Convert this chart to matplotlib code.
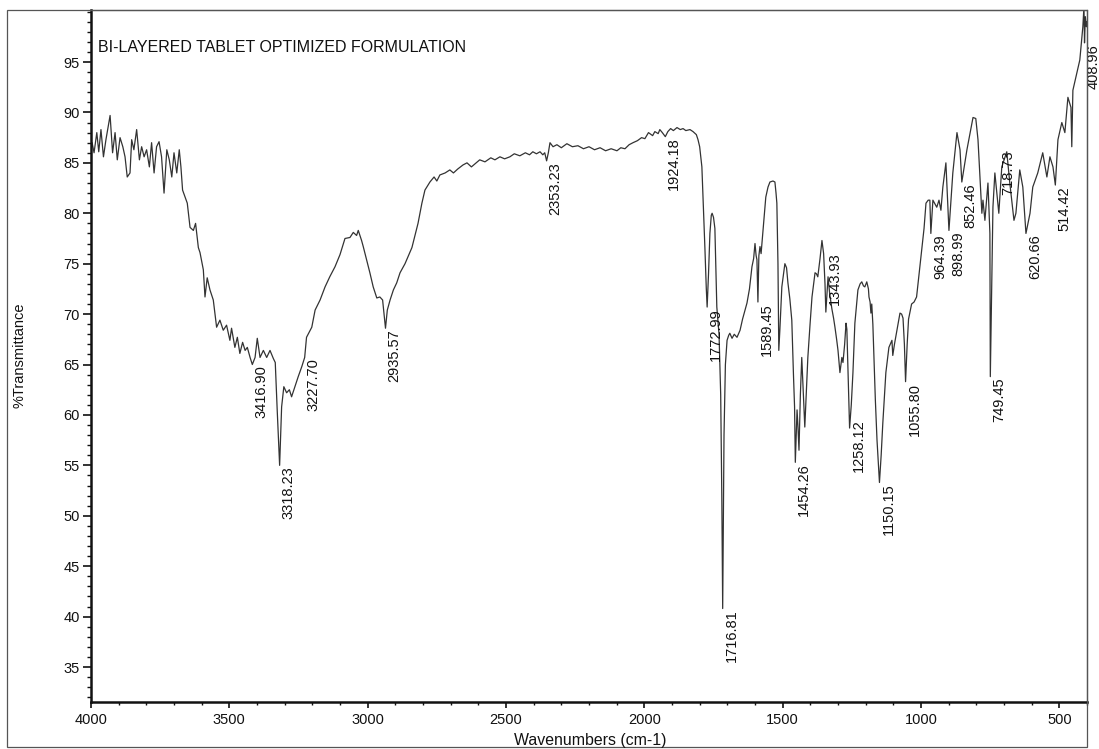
import numpy as np
import matplotlib
matplotlib.use("Agg")
import matplotlib.pyplot as plt
from matplotlib.ticker import FixedLocator, MultipleLocator
from matplotlib.patches import Rectangle

# FT-IR spectrum of the bi-layered tablet (wavenumber in cm-1, %T)
wavenumber = [
    4000, 3996, 3989, 3979, 3972, 3964, 3955, 3946, 3931, 3922, 3913, 3905, 3895,
    3885, 3877, 3869, 3859, 3853, 3845, 3835, 3825, 3817, 3808, 3799, 3789, 3781,
    3772, 3763, 3754, 3745, 3736, 3726, 3717, 3708, 3700, 3690, 3681, 3675, 3669,
    3660, 3652, 3642, 3630, 3622, 3612, 3606, 3594, 3588, 3580, 3570, 3558, 3546,
    3534, 3522, 3510, 3498, 3492, 3480, 3471, 3462, 3452, 3443, 3435, 3425, 3416.90,
    3407, 3399, 3389, 3377, 3365, 3353, 3341, 3334, 3327, 3318.23, 3311, 3303, 3293,
    3283, 3275, 3263, 3251, 3238, 3227.70, 3221, 3202, 3190, 3172, 3154, 3137, 3118,
    3100, 3082, 3064, 3052, 3040, 3034, 3022, 3016, 3004, 2992, 2980, 2967, 2956,
    2946, 2935.57, 2929, 2919, 2907, 2895, 2883, 2865, 2840, 2818, 2804, 2793, 2775,
    2760, 2750, 2739, 2720, 2703, 2690, 2674, 2655, 2641, 2625, 2612, 2595, 2576,
    2555, 2540, 2522, 2505, 2486, 2470, 2450, 2430, 2415, 2403, 2390, 2377, 2367,
    2360, 2353.23, 2347, 2341, 2330, 2316, 2300, 2280, 2260, 2240, 2220, 2200, 2180,
    2160, 2140, 2120, 2099, 2085, 2070, 2055, 2041, 2025, 2010, 1998, 1985, 1970,
    1962, 1950, 1944, 1935, 1924.18, 1915, 1905, 1895, 1882, 1870, 1860, 1850, 1835,
    1824, 1812, 1806, 1800, 1792, 1785, 1781, 1776, 1772.99, 1768, 1763, 1758, 1755,
    1750, 1745, 1741, 1738, 1730, 1724, 1720, 1716.81, 1712, 1707, 1701, 1695, 1691,
    1683, 1675, 1665, 1654, 1645, 1629, 1620, 1611, 1605, 1600, 1596, 1593, 1589.45,
    1586, 1582, 1578, 1571, 1566, 1561, 1553, 1546, 1535, 1528, 1524, 1521, 1517,
    1514, 1510, 1503, 1497, 1492, 1486, 1481, 1474, 1467, 1461, 1457, 1454.26, 1448,
    1445, 1441, 1436, 1431, 1425, 1420, 1415, 1409, 1401, 1394, 1388, 1383, 1378,
    1373, 1365, 1358, 1352, 1347, 1343.93, 1340, 1336, 1330, 1322, 1316, 1311, 1305,
    1300, 1293, 1286, 1282, 1276, 1271, 1268, 1264, 1258.12, 1252, 1246, 1239, 1228,
    1220, 1214, 1208, 1203, 1196, 1190, 1188, 1184, 1181, 1178, 1174, 1170, 1165,
    1159, 1150.15, 1144, 1138, 1127, 1116, 1105, 1102, 1096, 1087, 1076, 1070, 1065,
    1060, 1055.80, 1050, 1045, 1034, 1025, 1016, 1004, 995, 989, 982, 974, 968,
    964.39, 957, 943, 935, 928, 921, 910, 898.99, 885, 870, 859, 852.46, 834, 812,
    802, 794, 780, 776, 769, 758, 751, 749.45, 740, 733, 718.73, 708, 690, 679, 664,
    657, 643, 632, 620.66, 606, 596, 578, 560, 545, 534, 523, 514.42, 505, 491, 480,
    469, 458, 455, 451, 426, 415, 411, 408.96, 406, 402, 400,
]
transmittance = [
    86.2, 87.0, 86.0, 88.0, 86.1, 88.3, 85.6, 87.3, 89.7, 86.0, 88.0, 85.3, 87.5,
    86.6, 85.6, 83.6, 84.0, 87.3, 86.3, 88.3, 85.3, 86.6, 85.6, 86.3, 84.6, 87.0,
    84.0, 86.6, 87.1, 85.6, 82.0, 86.3, 85.3, 83.6, 86.0, 84.0, 86.3, 84.6, 82.3,
    81.6, 81.0, 78.6, 78.3, 79.0, 76.6, 76.1, 74.4, 71.7, 73.6, 72.4, 71.4, 68.7,
    69.4, 68.4, 68.9, 67.4, 68.6, 66.7, 67.7, 66.1, 67.2, 66.4, 66.7, 65.7, 65.0,
    65.7, 67.6, 65.7, 66.4, 65.7, 66.4, 65.6, 65.2, 60.5, 55.0, 60.8, 62.8, 62.2,
    62.5, 61.8, 62.8, 63.8, 64.8, 65.7, 67.7, 68.7, 70.4, 71.4, 72.7, 73.7, 74.7,
    75.9, 77.5, 77.6, 78.1, 77.8, 78.3, 77.3, 76.7, 75.4, 74.1, 72.7, 71.6, 71.7,
    71.4, 68.6, 70.4, 71.4, 72.4, 73.1, 74.1, 75.0, 76.6, 79.0, 81.0, 82.3, 83.1,
    83.6, 83.2, 83.8, 84.0, 84.3, 84.0, 84.4, 84.8, 85.0, 84.6, 84.9, 85.3, 85.1,
    85.5, 85.3, 85.6, 85.4, 85.6, 85.9, 85.7, 86.0, 85.8, 86.1, 85.9, 86.1, 85.8,
    86.0, 85.2, 86.0, 87.0, 86.6, 86.8, 86.5, 86.9, 86.6, 86.7, 86.4, 86.6, 86.3,
    86.5, 86.2, 86.4, 86.2, 86.5, 86.4, 86.8, 87.0, 87.2, 87.5, 87.4, 88.0, 87.7,
    88.1, 87.9, 88.3, 88.0, 87.6, 88.1, 88.4, 88.2, 88.5, 88.3, 88.4, 88.2, 88.3,
    88.1, 87.8, 87.3, 86.6, 84.6, 79.5, 76.5, 72.5, 70.7, 74.0, 78.0, 79.8, 80.0,
    79.6, 78.5, 74.0, 70.7, 68.0, 62.0, 52.0, 40.8, 58.0, 65.0, 67.4, 67.9, 68.1,
    67.6, 68.0, 67.7, 68.4, 69.5, 71.1, 72.5, 74.7, 75.5, 77.0, 75.8, 75.4, 71.2,
    75.8, 76.7, 76.0, 78.3, 80.0, 81.6, 82.6, 83.1, 83.2, 83.1, 82.0, 81.0, 75.0,
    66.4, 68.5, 72.7, 74.0, 75.0, 74.6, 73.1, 71.5, 69.4, 64.0, 60.8, 55.3, 60.5,
    59.0, 56.5, 62.0, 65.7, 62.0, 58.8, 62.0, 65.7, 69.0, 71.7, 73.0, 74.1, 74.0,
    73.7, 75.5, 77.3, 76.0, 73.0, 70.2, 72.0, 73.7, 72.0, 70.5, 69.6, 68.7, 67.5,
    66.4, 64.2, 65.7, 65.2, 67.0, 69.1, 68.5, 64.5, 58.7, 61.0, 64.2, 69.1, 72.4,
    73.0, 73.2, 72.8, 72.7, 73.2, 72.5, 71.7, 71.2, 70.1, 71.0, 69.0, 65.7, 61.5,
    57.5, 53.3, 56.0, 59.2, 64.2, 66.7, 67.4, 65.9, 67.0, 68.4, 70.1, 70.0, 69.6,
    67.0, 63.3, 67.0, 69.5, 71.0, 71.2, 71.7, 74.7, 77.0, 78.5, 81.0, 81.3, 81.3,
    78.0, 81.3, 80.6, 81.3, 80.3, 82.6, 85.0, 78.3, 84.0, 88.0, 86.3, 83.1, 86.3,
    89.5, 89.4, 87.3, 80.0, 81.3, 79.3, 83.0, 78.0, 63.8, 80.6, 84.0, 80.0, 84.6,
    86.1, 83.0, 79.3, 80.0, 84.3, 82.6, 78.0, 80.0, 82.6, 84.0, 86.0, 83.6, 85.6,
    84.6, 82.8, 87.3, 89.0, 88.0, 91.5, 90.5, 86.6, 92.2, 95.2, 98.5, 100.5, 96.9,
    99.5, 98.5, 99.0,
]

# Labelled absorption bands (cm-1)
peak_wavenumbers = [
    3416.90, 3318.23, 3227.70, 2935.57, 2353.23, 1924.18, 1772.99, 1716.81,
    1589.45, 1454.26, 1343.93, 1258.12, 1150.15, 1055.80, 964.39, 898.99,
    852.46, 749.45, 718.73, 620.66, 514.42, 408.96,
]

title_text = "BI-LAYERED TABLET OPTIMIZED FORMULATION"
x_label = "Wavenumbers (cm-1)"
y_label = "%Transmittance"
x_ticks = [4000, 3500, 3000, 2500, 2000, 1500, 1000, 500]
y_ticks = [35, 40, 45, 50, 55, 60, 65, 70, 75, 80, 85, 90, 95]

# Labels that sit higher than the band minimum (in %T units)
label_lift = {1343.93: 6.0, 718.73: 6.3, 1258.12: 1.0}

W, H, DPI = 1099, 749, 100
plt.rcParams['font.family'] = ['Liberation Sans', 'DejaVu Sans']
ink = '#111111'

fig = plt.figure(figsize=(W / DPI, H / DPI), dpi=DPI)
fig.patch.set_facecolor('white')


def px_rect(x0, y0, x1, y1):
    return [x0 / W, 1 - y1 / H, (x1 - x0) / W, (y1 - y0) / H]


ax = fig.add_axes(px_rect(91, 10, 1087, 702))
ax.plot(wavenumber, transmittance, color='#333333', lw=0.9)
ax.set_xlim(4000, 400)
ax.set_ylim(31.53, 100.16)

ax.xaxis.set_major_locator(FixedLocator(x_ticks))
ax.xaxis.set_minor_locator(MultipleLocator(100))
ax.yaxis.set_major_locator(FixedLocator(y_ticks))
ax.yaxis.set_minor_locator(MultipleLocator(1))
ax.tick_params(axis='both', which='major', direction='out', length=6, width=1.2,
               color=ink, labelsize=10.5, labelcolor=ink, pad=2)
ax.tick_params(axis='both', which='minor', direction='out', length=3, width=1.0,
               color=ink)
ax.tick_params(axis='x', which='major', length=4, pad=4)
ax.tick_params(axis='x', which='minor', length=2)

for side in ('left', 'bottom'):
    ax.spines[side].set_linewidth(1.8)
    ax.spines[side].set_color(ink)
for side in ('top', 'right'):
    ax.spines[side].set_linewidth(0.9)
    ax.spines[side].set_color('#555555')

# Outer frame around the whole sheet
fig.patches.append(Rectangle((7 / W, 1 - 747 / H), (1087 - 7) / W, (747 - 10) / H,
                             transform=fig.transFigure, fill=False,
                             lw=0.9, ec='#555555'))

fig.text(98 / W, 1 - 48 / H, title_text, ha='left', va='center',
         fontsize=11.5, color=ink)
fig.text(20 / W, 1 - 355 / H, y_label, rotation=90, ha='center', va='center',
         fontsize=10.5, color=ink)
fig.text(590 / W, 1 - 740 / H, x_label, ha='center', va='center',
         fontsize=11.4, color=ink)

# Band labels: rotated values placed just under each band minimum
wn_asc = np.array(wavenumber)[::-1]
tr_asc = np.array(transmittance)[::-1]
for wn in peak_wavenumbers:
    t = float(np.interp(wn, wn_asc, tr_asc))
    top = t - 0.1 + label_lift.get(wn, 0.0)
    ax.annotate(f"{wn:.2f}", xy=(wn, top), xytext=(6.5, 0),
                textcoords='offset points', rotation=90, ha='center', va='top',
                fontsize=10.5, color=ink, annotation_clip=False)

fig.savefig('out.png', dpi=DPI)
